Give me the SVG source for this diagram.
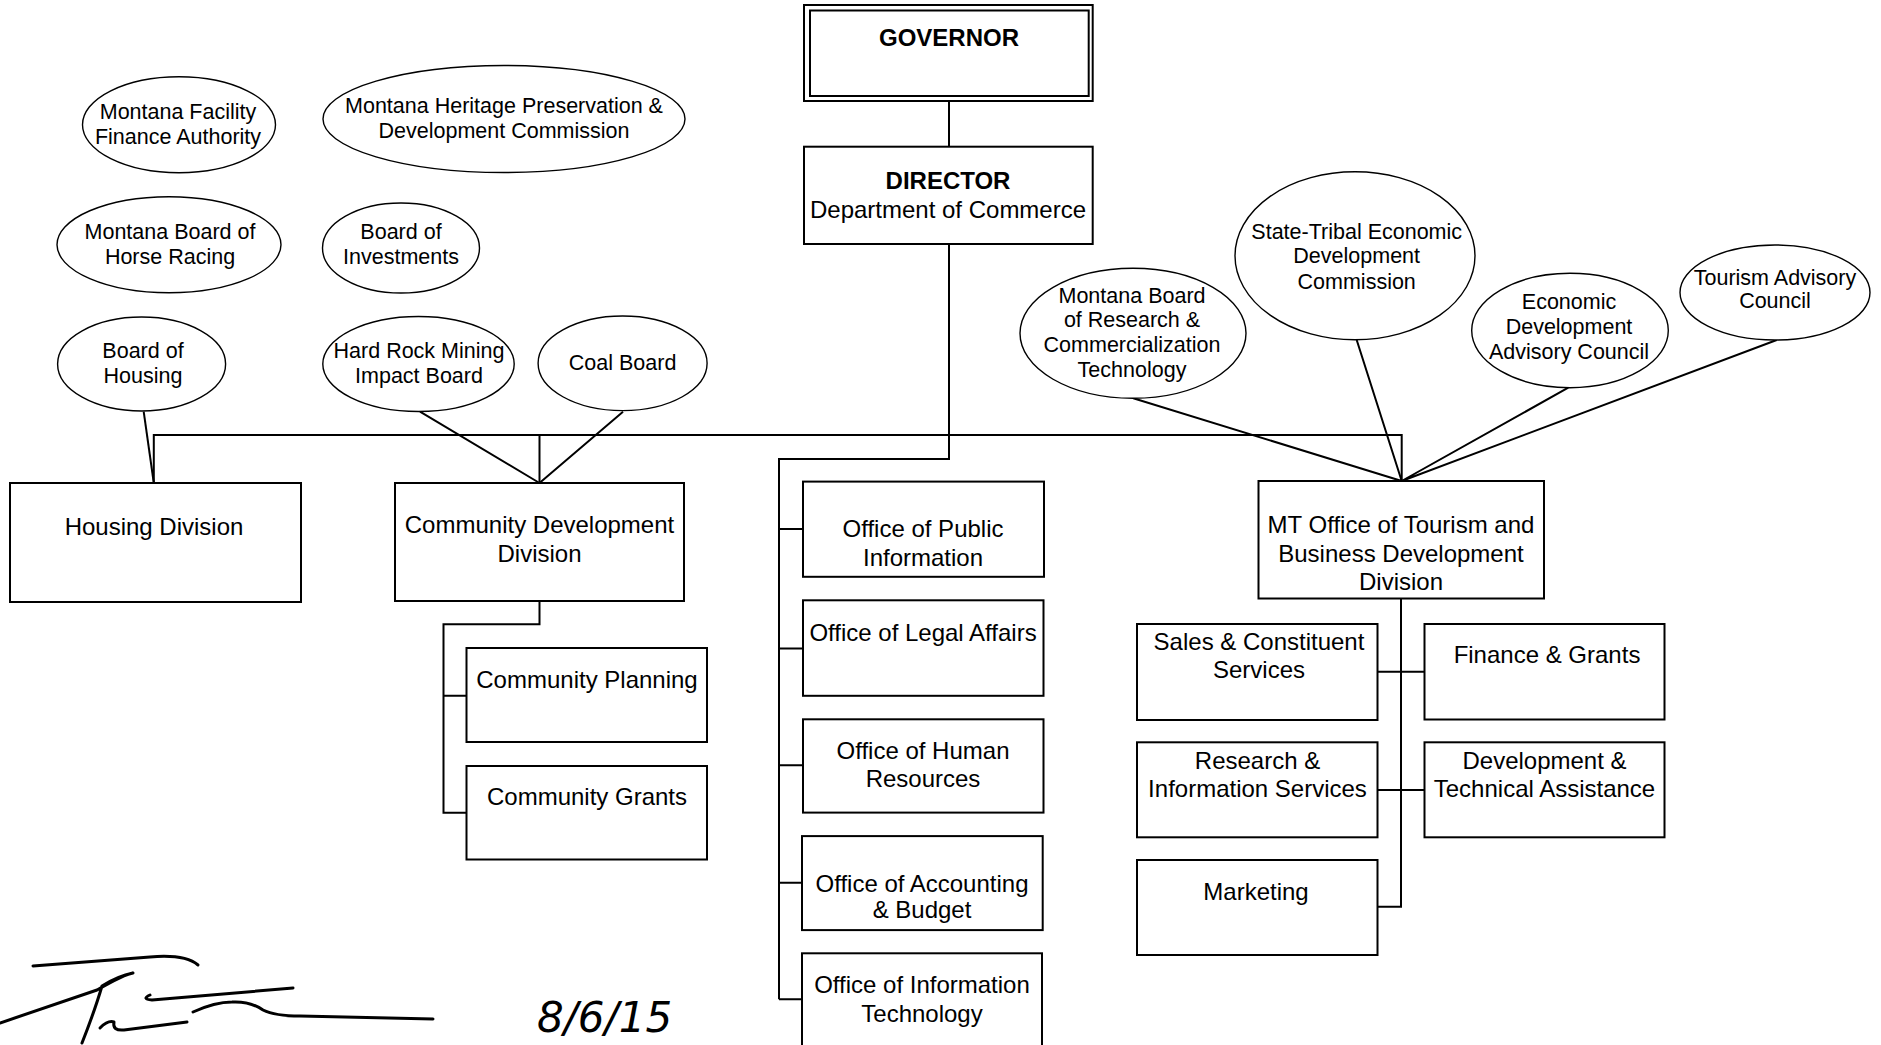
<svg xmlns="http://www.w3.org/2000/svg" width="1881" height="1045" viewBox="0 0 1881 1045">
<style>
  .box { fill: #fff; stroke: #000; stroke-width: 2; }
  .ell { fill: #fff; stroke: #000; stroke-width: 1.4; }
  .con { fill: none; stroke: #000; stroke-width: 2; }
  .bt { font-family: "Liberation Sans", Arial, sans-serif; font-size: 24px; fill: #000; text-anchor: middle; }
  .et { font-family: "Liberation Sans", Arial, sans-serif; font-size: 21.5px; fill: #000; text-anchor: middle; }
  .bold { font-weight: bold; }
  .sig { fill: none; stroke: #000; stroke-width: 3; stroke-linecap: round; stroke-linejoin: round; }
</style>
<rect width="1881" height="1045" fill="#fff"/>

<g id="connectors">
  <path class="con" d="M949,101 V146.7"/>
  <path class="con" d="M949,244 V459 H779 V999.2"/>
  <path class="con" d="M779,529 H803 M779,648.4 H803 M779,765.2 H803 M779,882.8 H803 M779,999.2 H803"/>
  <path class="con" d="M153.8,483 V435 H1401.7 V481"/>
  <path class="con" d="M539.5,435 V483"/>
  <path class="con" d="M420,411.7 L539.5,483 M623,411.7 L539.5,483"/>
  <path class="con" d="M143.7,411.7 L153.8,483"/>
  <path class="con" d="M539.5,601 V624.3 H443.5 V812.7 H466.5 M443.5,695.7 H466.5"/>
  <path class="con" d="M1133.3,398.3 L1401.7,481 M1356.7,340 L1401.7,481 M1568.3,387.7 L1401.7,481 M1776.7,340 L1401.7,481"/>
  <path class="con" d="M1401,598.5 V906.7 H1377.5 M1377.5,671.7 H1424.5 M1377.5,790 H1424.5"/>
</g>

<g id="governor">
  <rect class="box" x="804" y="5" width="288.7" height="96"/>
  <rect class="box" x="810" y="10.5" width="278.7" height="85.5" stroke-width="1.5"/>
  <text class="bt bold" x="949" y="46" font-size="28">GOVERNOR</text>
</g>
<g id="director">
  <rect class="box" x="804" y="146.7" width="288.7" height="97.3"/>
  <text class="bt bold" x="948" y="189.3" font-size="25">DIRECTOR</text>
  <text class="bt" x="948" y="218.3">Department of Commerce</text>
</g>

<g id="mffa">
  <ellipse class="ell" cx="179" cy="124.7" rx="96.5" ry="48"/>
  <text class="et" x="178" y="119">Montana Facility</text>
  <text class="et" x="178" y="144">Finance Authority</text>
</g>
<g id="heritage">
  <ellipse class="ell" cx="504" cy="119" rx="181" ry="53.5"/>
  <text class="et" x="504" y="112.7">Montana Heritage Preservation &amp;</text>
  <text class="et" x="504" y="137.7">Development Commission</text>
</g>
<g id="horse-racing">
  <ellipse class="ell" cx="169" cy="244.7" rx="112" ry="48"/>
  <text class="et" x="170" y="238.7">Montana Board of</text>
  <text class="et" x="170" y="263.5">Horse Racing</text>
</g>
<g id="investments">
  <ellipse class="ell" cx="401" cy="248" rx="78.5" ry="45"/>
  <text class="et" x="401" y="238.7">Board of</text>
  <text class="et" x="401" y="263.5">Investments</text>
</g>
<g id="board-housing">
  <ellipse class="ell" cx="141.6" cy="364" rx="84" ry="47"/>
  <text class="et" x="143" y="358.3">Board of</text>
  <text class="et" x="143" y="383.3">Housing</text>
</g>
<g id="hard-rock">
  <ellipse class="ell" cx="418.5" cy="364" rx="95.7" ry="47.5"/>
  <text class="et" x="419" y="358.3">Hard Rock Mining</text>
  <text class="et" x="419" y="382.7">Impact Board</text>
</g>
<g id="coal-board">
  <ellipse class="ell" cx="622.6" cy="363.3" rx="84.5" ry="47.3"/>
  <text class="et" x="622.6" y="370">Coal Board</text>
</g>

<g id="research-board">
  <ellipse class="ell" cx="1133" cy="333.3" rx="113" ry="65"/>
  <text class="et" x="1132" y="303.3">Montana Board</text>
  <text class="et" x="1132" y="326.7">of Research &amp;</text>
  <text class="et" x="1132" y="351.7">Commercialization</text>
  <text class="et" x="1132" y="376.7">Technology</text>
</g>
<g id="state-tribal">
  <ellipse class="ell" cx="1355" cy="255.8" rx="120" ry="84"/>
  <text class="et" x="1356.7" y="239">State-Tribal Economic</text>
  <text class="et" x="1356.7" y="263.3">Development</text>
  <text class="et" x="1356.7" y="289">Commission</text>
</g>
<g id="econ-dev">
  <ellipse class="ell" cx="1570" cy="330.5" rx="98.3" ry="57.2"/>
  <text class="et" x="1569" y="309">Economic</text>
  <text class="et" x="1569" y="334.3">Development</text>
  <text class="et" x="1569" y="359.3">Advisory Council</text>
</g>
<g id="tourism-advisory">
  <ellipse class="ell" cx="1775" cy="292.5" rx="95" ry="47.5"/>
  <text class="et" x="1775" y="285">Tourism Advisory</text>
  <text class="et" x="1775" y="307.7">Council</text>
</g>

<g id="housing-division">
  <rect class="box" x="10" y="483" width="291" height="119"/>
  <text class="bt" x="154" y="535">Housing Division</text>
</g>
<g id="cdd">
  <rect class="box" x="395" y="483" width="289" height="118"/>
  <text class="bt" x="539.5" y="533">Community Development</text>
  <text class="bt" x="539.5" y="562">Division</text>
</g>
<g id="community-planning">
  <rect class="box" x="466.5" y="648" width="240.5" height="94"/>
  <text class="bt" x="587" y="688">Community Planning</text>
</g>
<g id="community-grants">
  <rect class="box" x="466.5" y="766" width="240.5" height="93.5"/>
  <text class="bt" x="587" y="805">Community Grants</text>
</g>

<g id="public-info">
  <rect class="box" x="803" y="481.6" width="241" height="95.2"/>
  <text class="bt" x="923" y="537.2">Office of Public</text>
  <text class="bt" x="923" y="565.6">Information</text>
</g>
<g id="legal">
  <rect class="box" x="803" y="600.3" width="240.5" height="95.5"/>
  <text class="bt" x="923" y="641">Office of Legal Affairs</text>
</g>
<g id="hr">
  <rect class="box" x="803" y="719.3" width="240.5" height="93.3"/>
  <text class="bt" x="923" y="758.5">Office of Human</text>
  <text class="bt" x="923" y="787.2">Resources</text>
</g>
<g id="accounting">
  <rect class="box" x="802" y="836.1" width="240.7" height="94"/>
  <text class="bt" x="922" y="892">Office of Accounting</text>
  <text class="bt" x="922" y="918.2">&amp; Budget</text>
</g>
<g id="it">
  <rect class="box" x="802" y="953.3" width="240" height="120"/>
  <text class="bt" x="922" y="992.8">Office of Information</text>
  <text class="bt" x="922" y="1021.6">Technology</text>
</g>

<g id="mt-office">
  <rect class="box" x="1258.5" y="481" width="285.5" height="117.5"/>
  <text class="bt" x="1401" y="533">MT Office of Tourism and</text>
  <text class="bt" x="1401" y="562">Business Development</text>
  <text class="bt" x="1401" y="590">Division</text>
</g>
<g id="sales">
  <rect class="box" x="1137" y="624" width="240.5" height="96"/>
  <text class="bt" x="1259" y="650">Sales &amp; Constituent</text>
  <text class="bt" x="1259" y="678">Services</text>
</g>
<g id="finance">
  <rect class="box" x="1424.5" y="624" width="240" height="95.5"/>
  <text class="bt" x="1547" y="663">Finance &amp; Grants</text>
</g>
<g id="research">
  <rect class="box" x="1137" y="742.3" width="240.5" height="95"/>
  <text class="bt" x="1257.5" y="768.5">Research &amp;</text>
  <text class="bt" x="1257.5" y="796.5">Information Services</text>
</g>
<g id="development">
  <rect class="box" x="1424.5" y="742.3" width="240" height="95"/>
  <text class="bt" x="1544.5" y="768.5">Development &amp;</text>
  <text class="bt" x="1544.5" y="796.5">Technical Assistance</text>
</g>
<g id="marketing">
  <rect class="box" x="1137" y="860" width="240.5" height="95"/>
  <text class="bt" x="1256" y="900">Marketing</text>
</g>

<g id="signature">
  <path class="sig" d="M33,966 L150,957 Q185,954 198,965"/>
  <path class="sig" d="M0,1023 L97,990 Q125,974 133,973 Q118,976 102,986 Q95,1010 82,1043"/>
  <path class="sig" d="M100,1028 Q108,1020 114,1022 Q112,1031 124,1030 L187,1022"/>
  <path class="sig" d="M150,995 Q141,999 152,1000 L293,988"/>
  <path class="sig" d="M193,1012 Q215,1002 232,1002 Q250,1001 263,1010 Q275,1016 300,1016 L433,1019"/>
  <text x="537" y="1032" font-family="'DejaVu Sans', sans-serif" font-style="italic" font-size="42" fill="#000">8/6/15</text>
</g>
</svg>
